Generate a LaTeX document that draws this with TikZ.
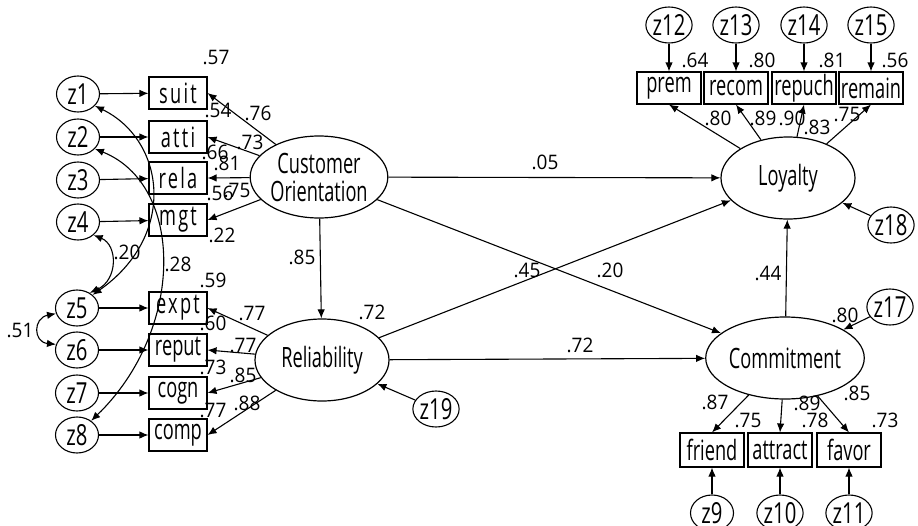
\documentclass[tikz,border=0pt]{standalone}
\usepackage{fontspec}
\setmainfont{Open Sans}
\newfontfamily\nodefont{Open Sans}[FakeStretch=0.65]
\newfontfamily\errfont{Open Sans}[FakeStretch=0.7]
\newfontfamily\numfont{Open Sans}[FakeStretch=0.95]
\usetikzlibrary{arrows.meta,shapes.geometric}

\tikzset{
  latent/.style={ellipse, draw, line width=1.2pt, minimum width=134pt, minimum height=82pt,
    inner sep=0pt, align=center, font=\nodefont\fontsize{28}{28}\selectfont},
  err/.style={ellipse, draw, line width=1.1pt, minimum width=43pt, minimum height=36pt,
    inner sep=0pt, font=\errfont\fontsize{29}{29}\selectfont},
  obs/.style={rectangle, draw, line width=1.1pt, minimum width=58pt, minimum height=32pt,
    inner sep=0pt, font=\nodefont\fontsize{28}{28}\selectfont},
  obsw/.style={obs, minimum width=64pt},
  spaced/.style={font=\nodefont\fontsize{28}{28}\selectfont\addfontfeature{LetterSpace=8}},
  coef/.style={inner sep=0pt, font=\numfont\fontsize{20}{20}\selectfont},
  arr/.style={line width=1.1pt, -{Latex[length=9pt,width=7.5pt]}},
  cov/.style={line width=1.1pt, {Latex[length=9pt,width=7.5pt]}-{Latex[length=9pt,width=7.5pt]}}
}

\begin{document}
\begin{tikzpicture}[x=1pt,y=-1pt]
\useasboundingbox (0,0) rectangle (918,525);

% latent constructs
\node[latent] (CO)  at (319,177) {Customer\\[0pt]Orientation};
\node[latent] (Rel) at (322,360) {Reliability};
\node[latent] (Loy) at (788,178) {Loyalty};
\node[latent] (Com) at (785,358) {Commitment};

% indicators of Customer Orientation and Reliability
\node[obs, spaced] (suit)  at (178,93)  {suit};
\node[obs, spaced] (atti)  at (178,137) {atti};
\node[obs, spaced] (rela)  at (178,178) {rela};
\node[obs, spaced] (mgt)   at (178,220) {mgt};
\node[obs, spaced] (expt)  at (178,308) {expt};
\node[obs] (reput) at (178,350) {reput};
\node[obs] (cogn)  at (178,393) {cogn};
\node[obs] (comp)  at (178,435) {comp};

% indicators of Loyalty
\node[obsw] (prem)   at (669,88) {prem};
\node[obsw] (recom)  at (736,88) {recom};
\node[obsw] (repuch) at (804,88) {repuch};
\node[obsw] (remain) at (871,88) {remain};

% indicators of Commitment
\node[obsw, minimum height=34pt] (friend)  at (712,450) {friend};
\node[obsw, minimum height=34pt] (attract) at (780,450) {attract};
\node[obsw, minimum height=34pt] (favor)   at (849,450) {favor};

% error terms
\node[err] (z1) at (78,94)  {z1};
\node[err] (z2) at (78,137) {z2};
\node[err] (z3) at (78,180) {z3};
\node[err] (z4) at (78,222) {z4};
\node[err] (z5) at (77,308) {z5};
\node[err] (z6) at (77,350) {z6};
\node[err] (z7) at (77,393) {z7};
\node[err] (z8) at (77,435) {z8};
\node[err] (z12) at (669,25) {z12};
\node[err] (z13) at (736,25) {z13};
\node[err] (z14) at (804,25) {z14};
\node[err] (z15) at (871,25) {z15};
\node[err] (z9)  at (712,513) {z9};
\node[err] (z10) at (780,513) {z10};
\node[err] (z11) at (849,513) {z11};
\node[err] (z17) at (890,307) {z17};
\node[err] (z18) at (891,225) {z18};
\node[err] (z19) at (436,409) {z19};

% error paths
\foreach \e/\b in {z1/suit,z2/atti,z3/rela,z4/mgt,z5/expt,z6/reput,z7/cogn,z8/comp,
                   z12/prem,z13/recom,z14/repuch,z15/remain,z9/friend,z10/attract,z11/favor}
  \draw[arr] (\e) -- (\b);
\draw[arr] (z17) -- (Com);
\draw[arr] (z18) -- (Loy);
\draw[arr] (z19) -- (Rel);

% loadings
\foreach \b in {suit,atti,rela,mgt} \draw[arr] (CO) -- (\b.east);
\foreach \b in {expt,reput,cogn,comp} \draw[arr] (Rel) -- (\b.east);
\foreach \b in {prem,recom,repuch,remain} \draw[arr] (Loy) -- (\b.south);
\foreach \b in {friend,attract,favor} \draw[arr] (Com) -- (\b.north);

% structural paths
\draw[arr] (CO) -- (Rel);
\draw[arr] (CO) -- (Loy);
\draw[arr] (CO) -- (Com);
\draw[arr] (Rel) -- (Loy);
\draw[arr] (Rel) -- (Com);
\draw[arr] (Com) -- (Loy);

% error covariances
\draw[cov] (z5.195) .. controls (33,318) and (33,342) .. (z6.165);
\draw[cov] (z4.-40) .. controls (118,245) and (118,280) .. (z5.50);
\draw[cov] (z1.-35) .. controls (165,140) and (178,235) .. (z5.40);
\draw[cov] (z2.-35) .. controls (185,185) and (185,330) .. (z8.45);

% coefficients
\node[coef] (c1)  at (216,58)  {.57};
\node[coef] (c2)  at (258,113) {.76};
\node[coef] (c3)  at (218,110) {.54};
\node[coef] (c4)  at (250,142) {.73};
\node[coef] (c5)  at (215,152) {.66};
\node[coef] (c6)  at (227,163) {.81};
\node[coef] (c7)  at (220,193) {.56};
\node[coef] (c8)  at (237,190) {.75};
\node[coef] (c9)  at (222,235) {.22};
\node[coef] (c10) at (302,257) {.85};
\node[coef] (c11) at (127,252) {.20};
\node[coef] (c12) at (178,264) {.28};
\node[coef] (c13) at (213,280) {.59};
\node[coef] (c14) at (252,313) {.77};
\node[coef] (c15) at (213,323) {.60};
\node[coef] (c16) at (243,345) {.77};
\node[coef] (c17) at (213,367) {.73};
\node[coef] (c18) at (243,375) {.85};
\node[coef] (c19) at (213,410) {.77};
\node[coef] (c20) at (247,403) {.88};
\node[coef] (c21) at (372,312) {.72};
\node[coef] (c22) at (20,330)  {.51};
\node[coef] (c23) at (695,60)  {.64};
\node[coef] (c24) at (762,60)  {.80};
\node[coef] (c25) at (832,60)  {.81};
\node[coef] (c26) at (895,60)  {.56};
\node[coef] (c27) at (718,118) {.80};
\node[coef] (c28) at (763,118) {.89};
\node[coef] (c29) at (792,118) {.90};
\node[coef] (c30) at (817,127) {.83};
\node[coef] (c31) at (847,115) {.75};
\node[coef] (c32) at (768,273) {.44};
\node[coef] (c33) at (845,315) {.80};
\node[coef] (c34) at (715,402) {.87};
\node[coef] (c35) at (748,420) {.75};
\node[coef] (c36) at (807,403) {.89};
\node[coef] (c37) at (815,420) {.78};
\node[coef] (c38) at (857,393) {.85};
\node[coef] (c39) at (885,420) {.73};
\node[coef] (c40) at (545,162) {.05};
\node[coef] (c41) at (527,270) {.45};
\node[coef] (c42) at (610,270) {.20};
\node[coef] (c43) at (580,345) {.72};
\end{tikzpicture}
\end{document}
